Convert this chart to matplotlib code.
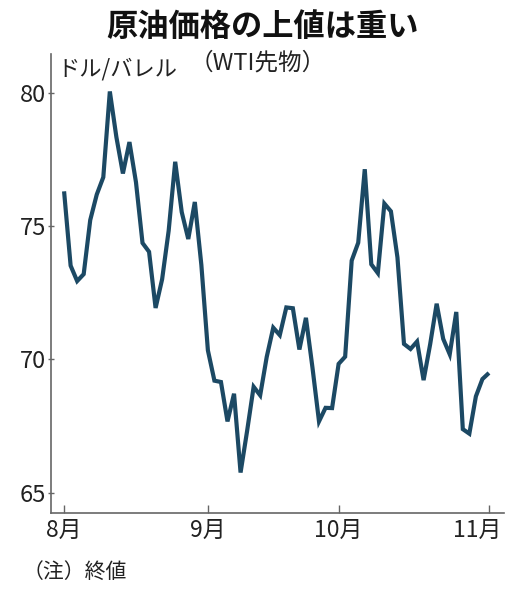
import matplotlib
matplotlib.use("Agg")
import matplotlib.pyplot as plt
from matplotlib import font_manager
from matplotlib.transforms import ScaledTranslation

# WTI futures, daily settlement, Aug 1 - Nov 1
aug = [76.31, 73.52, 72.94, 73.20, 75.23, 76.19, 76.84, 80.06, 78.35, 76.98,
       78.16, 76.65, 74.37, 74.04, 71.93, 73.01, 74.83, 77.42, 75.53, 74.52,
       75.91, 73.55]
sep = [70.34, 69.20, 69.15, 67.67, 68.71, 65.75, 67.31, 68.97, 68.65, 70.09,
       71.19, 70.91, 71.95, 71.92, 70.37, 71.56, 69.69, 67.67, 68.18, 68.17]
octo = [69.83, 70.10, 73.71, 74.38, 77.14, 73.57, 73.24, 75.85, 75.56, 73.83,
        70.58, 70.39, 70.67, 69.22, 70.56, 72.09, 70.77, 70.19, 71.78, 67.38,
        67.21, 68.61, 69.26]
nov = [69.49]

prices = aug + sep + octo + nov
month_labels = ["8月", "9月", "10月", "11月"]
month_starts = [0, len(aug), len(aug) + len(sep), len(aug) + len(sep) + len(octo)]
y_ticks = [65, 70, 75, 80]

installed = {f.name for f in font_manager.fontManager.ttflist}
narrow = "Liberation Sans Narrow" if "Liberation Sans Narrow" in installed else "Noto Sans CJK JP"
num_font = [narrow, "Noto Sans CJK JP"]
jp_font = ["Noto Sans CJK JP", "DejaVu Sans"]

fig = plt.figure(figsize=(5.05, 5.89), dpi=100)
ax = fig.add_axes([0.101, 0.129, 0.897, 0.779])

x = list(range(len(prices)))
ax.plot(x, prices, color="#1c4964", linewidth=3.0, solid_joinstyle="miter",
        solid_capstyle="butt")

ax.set_xlim(-2.0, 67.3)
ax.set_ylim(64.23, 81.46)

ax.set_yticks(y_ticks)
ax.set_yticklabels([str(v) for v in y_ticks], fontfamily=num_font, fontsize=17)
ax.set_xticks(month_starts)
ax.set_xticklabels(month_labels, fontfamily=num_font, fontsize=16.5)

ax.tick_params(axis="y", direction="inout", length=5, width=1.0, color="#666666",
               pad=1, labelcolor="#222222")
ax.tick_params(axis="x", direction="in", length=6, width=1.0, color="#666666",
               pad=4, labelcolor="#222222")

# keep the last month label inside the figure
last = ax.get_xticklabels()[-1]
last.set_transform(last.get_transform() + ScaledTranslation(-0.12, 0, fig.dpi_scale_trans))

for side in ["top", "right"]:
    ax.spines[side].set_visible(False)
for side in ["left", "bottom"]:
    ax.spines[side].set_color("#666666")
    ax.spines[side].set_linewidth(1.2)

fig.text(0.519, 0.955, "原油価格の上値は重い", fontfamily=jp_font, fontsize=22.5,
         fontweight="bold", ha="center", va="center", color="#111111")
fig.text(0.510, 0.893, "（WTI先物）", fontfamily=jp_font, fontsize=17,
         ha="center", va="center", color="#222222")
fig.text(0.113, 0.883, "ドル/バレル", fontfamily=jp_font, fontsize=16,
         ha="left", va="center", color="#222222")
fig.text(0.045, 0.029, "（注）終値", fontfamily=jp_font, fontsize=15,
         ha="left", va="center", color="#222222")

fig.savefig("out.png", dpi=100, facecolor="white")
